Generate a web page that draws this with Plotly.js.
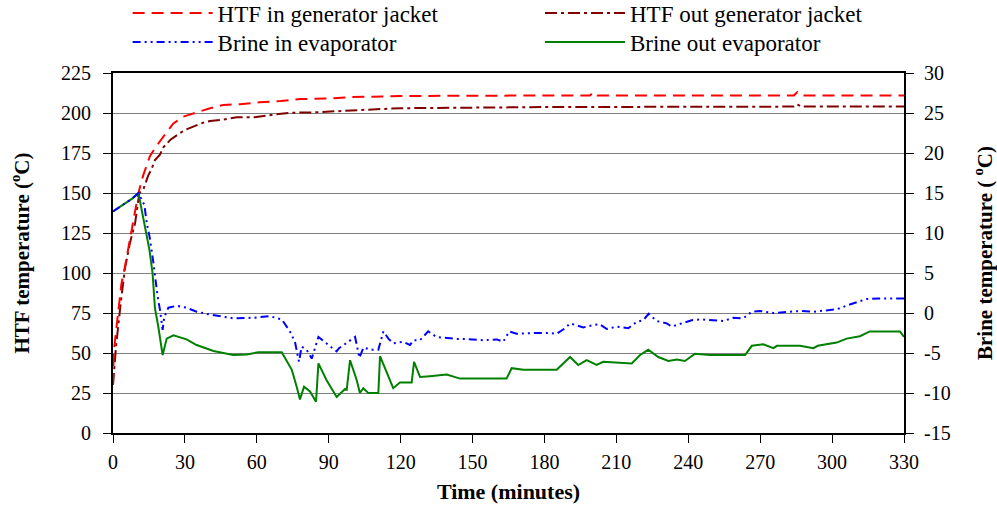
<!DOCTYPE html>
<html>
<head>
<meta charset="utf-8">
<script src="https://cdn.plot.ly/plotly-3.0.1.min.js"></script>
<style>html,body{margin:0;padding:0;background:#fff;}#chart{width:997px;height:508px;}</style>
</head>
<body>
<div id="chart"></div>
<script>
// ---- Data ----
const seriesNames = ["HTF in generator jacket", "HTF out generator jacket", "Brine in evaporator", "Brine out evaporator"];

const timeHtfIn = [0,0.3,1,2,3.5,5,6.5,8,9,10.6,12.6,15.4,17.5,20.3,22.4,25.2,29.3,32,36,40.5,46,53,61,70,78,92,100,120,150,180,199,200.5,202,284,285.5,287,330];
const htfIn = [30,50,60,75,93,104,116,129,137,150,161,173,178,184,188,193.5,197.7,199,201,203,205,205.5,206.7,207.5,208.7,209.2,210,210.6,210.8,211,211,213,211,211,213,211,211];

const timeHtfOut = [0,1.25,3.2,5,7.1,9.2,11,12.6,14.7,16.1,17.5,19.6,21,24.1,27.2,30,33.5,37.7,40.5,44.6,51.6,59,67,75,84,95,105,120,150,180,210,240,284,285.5,287,330];
const htfOut = [30,54,81,103,119,131,150,152,161,165,170.6,174,178.5,183.5,186.7,189.4,191.5,194,195,195.6,197.3,197.3,199,200.2,200.4,201,202,203,203.5,203.7,203.8,204,204,205.5,204,204];

const timeBrineIn = [0,2,4,6,8,10.6,13.1,14.1,15.4,16.8,17.9,18.6,19.6,20.7,21.4,23.1,26.6,30.7,34.9,40.5,50.2,58.5,65.5,70.4,73.8,75.9,77.6,78.7,80.8,82.9,85.7,89.1,93.3,94.3,98.9,101,102.8,104.5,107.5,110.7,112.8,114.9,116.9,121,123.9,125.3,128.1,131.5,135,143.4,146.9,154.5,160.1,162.8,165.3,168.4,175.3,182.3,185.1,188.6,190.7,193.4,196.2,200.4,203,206,210.2,215,218.5,221.2,223.5,226.8,231,233.1,236.5,241.4,244.9,254.6,258.8,263,266.5,269.9,275.5,281.1,286.6,292.2,297.7,301.9,306.8,311,314.4,319.3,330];
const brineIn = [12.7,13.1,13.5,13.9,14.3,15,13.5,11.2,9.3,6.4,3.7,2.1,0.4,-2.1,-0.5,0.66,0.9,0.66,0.16,-0.2,-0.66,-0.6,-0.4,-0.8,-2.3,-3.6,-6.1,-4.2,-4.6,-5.7,-3.0,-3.8,-4.8,-4.4,-3.4,-3.0,-5.6,-4.3,-4.6,-4.6,-2.3,-3.2,-3.8,-3.6,-4.0,-3.4,-3.4,-2.3,-3.0,-3.25,-3.25,-3.4,-3.3,-3.6,-2.3,-2.6,-2.5,-2.5,-2.6,-1.9,-1.3,-1.5,-1.8,-1.5,-1.4,-2.0,-1.7,-1.9,-1.1,-0.9,-0.1,-1.0,-1.3,-1.7,-1.4,-0.9,-0.8,-1.0,-0.6,-0.66,0.16,0.25,0,0.16,0.25,0.16,0.3,0.46,1.0,1.4,1.75,1.8,1.8];

const timeBrineOut = [0,2,4,6,8,10.6,12.6,15.2,16.5,17.5,18.9,20.7,22.4,25.2,30.7,34.9,41.9,50.2,55.8,60.6,70.4,74.6,76.6,78,79.7,82.2,84.7,85.7,89.1,93.3,96.8,97.5,98.9,101.7,103,104.4,106.5,110.7,111.4,114.2,116.9,119.7,124.6,125.6,128.1,132.2,139.2,144.8,154.5,164.2,166.3,171.2,185.1,190.7,194.1,197.6,201.8,204.5,216.4,219.9,223.3,227.5,231.7,235.2,238.6,242.8,249.1,263.7,266.5,271.3,275.5,277,286.6,292.2,294,301.9,306.1,311.6,315.8,328.3,330];
const brineOut = [12.7,13.1,13.5,13.9,14.3,15,11.8,7.9,5.0,0.6,-1.7,-5.25,-3.2,-2.8,-3.3,-4.0,-4.75,-5.25,-5.2,-4.9,-4.9,-7.1,-9.2,-10.8,-9.2,-9.8,-11.1,-6.3,-8.4,-10.5,-9.5,-9.6,-5.9,-8.4,-10.0,-9.4,-10.0,-10.0,-5.4,-7.5,-9.4,-8.7,-8.7,-6.1,-8.0,-7.9,-7.7,-8.2,-8.2,-8.2,-6.9,-7.1,-7.1,-5.5,-6.5,-5.9,-6.5,-6.1,-6.3,-5.25,-4.6,-5.5,-6.0,-5.8,-6.0,-5.1,-5.25,-5.25,-4.1,-3.9,-4.4,-4.1,-4.1,-4.4,-4.1,-3.7,-3.2,-2.9,-2.3,-2.3,-3.0];

const xTickVals = [0,30,60,90,120,150,180,210,240,270,300,330];
const yLeftTicks = [0,25,50,75,100,125,150,175,200,225];
const yRightTicks = [-15,-10,-5,0,5,10,15,20,25,30];

// ---- Chart ----
const FONT = "Liberation Serif, Times New Roman, serif";
const traces = [
  {x: timeBrineOut, y: brineOut, name: seriesNames[3], yaxis: "y2", mode: "lines", legend: "legend4",
   line: {color: "#008000", width: 2}},
  {x: timeBrineIn, y: brineIn, name: seriesNames[2], yaxis: "y2", mode: "lines", legend: "legend3",
   line: {color: "#0000ff", width: 2, dash: "8px,4px,2px,4px,2px,4px"}},
  {x: timeHtfOut, y: htfOut, name: seriesNames[1], yaxis: "y", mode: "lines", legend: "legend2",
   line: {color: "#800000", width: 2, dash: "12px,4px,3px,4px"}},
  {x: timeHtfIn, y: htfIn, name: seriesNames[0], yaxis: "y", mode: "lines", legend: "legend",
   line: {color: "#ff0000", width: 2, dash: "12px,7px"}}
];

const legendCommon = {
  orientation: "h", xref: "container", yref: "container",
  xanchor: "left", yanchor: "middle",
  font: {family: FONT, size: 23, color: "#000"},
  bgcolor: "rgba(0,0,0,0)", itemwidth: 80
};
const col1 = 0.128, col2 = 0.5416, row1 = 0.9745, row2 = 0.9173;

const layout = {
  width: 997, height: 508,
  margin: {l: 113, r: 93, t: 73, b: 75, autoexpand: false},
  paper_bgcolor: "#fff", plot_bgcolor: "#fff",
  font: {family: FONT, size: 20, color: "#000"},
  showlegend: true,
  legend: Object.assign({}, legendCommon, {x: col1, y: row1}),
  legend2: Object.assign({}, legendCommon, {x: col2, y: row1}),
  legend3: Object.assign({}, legendCommon, {x: col1, y: row2}),
  legend4: Object.assign({}, legendCommon, {x: col2, y: row2}),
  xaxis: {
    range: [0, 330], tickvals: xTickVals, ticktext: xTickVals.map(String),
    showgrid: false, zeroline: false,
    showline: true, linecolor: "#000", linewidth: 2, mirror: true,
    ticks: "outside", ticklen: 8, tickcolor: "#000", tickwidth: 1,
    ticklabelstandoff: 2,
    tickfont: {family: FONT, size: 20},
    title: {text: "<b>Time (minutes)</b>", font: {family: FONT, size: 22}, standoff: 12}
  },
  yaxis: {
    range: [0, 225], tickvals: yLeftTicks, ticktext: yLeftTicks.map(String),
    showgrid: true, gridcolor: "#808080", gridwidth: 1, zeroline: false,
    showline: true, linecolor: "#000", linewidth: 2,
    ticks: "outside", ticklen: 8, tickcolor: "#000", tickwidth: 1,
    ticklabelstandoff: 8,
    tickfont: {family: FONT, size: 20},
    title: {text: "<b>HTF temperature (<sup>o</sup>C)</b>", font: {family: FONT, size: 21}, standoff: 26}
  },
  yaxis2: {
    range: [-15, 30], tickvals: yRightTicks, ticktext: yRightTicks.map(String),
    overlaying: "y", side: "right",
    showgrid: false, zeroline: false,
    showline: true, linecolor: "#000", linewidth: 2,
    ticks: "outside", ticklen: 8, tickcolor: "#000", tickwidth: 1,
    ticklabelstandoff: 6,
    tickfont: {family: FONT, size: 20},
    title: {text: "<b>Brine temperature ( <sup>o</sup>C)</b>", font: {family: FONT, size: 21}, standoff: 28}
  }
};

Plotly.newPlot("chart", traces, layout, {staticPlot: true, displayModeBar: false});
</script>
</body>
</html>
